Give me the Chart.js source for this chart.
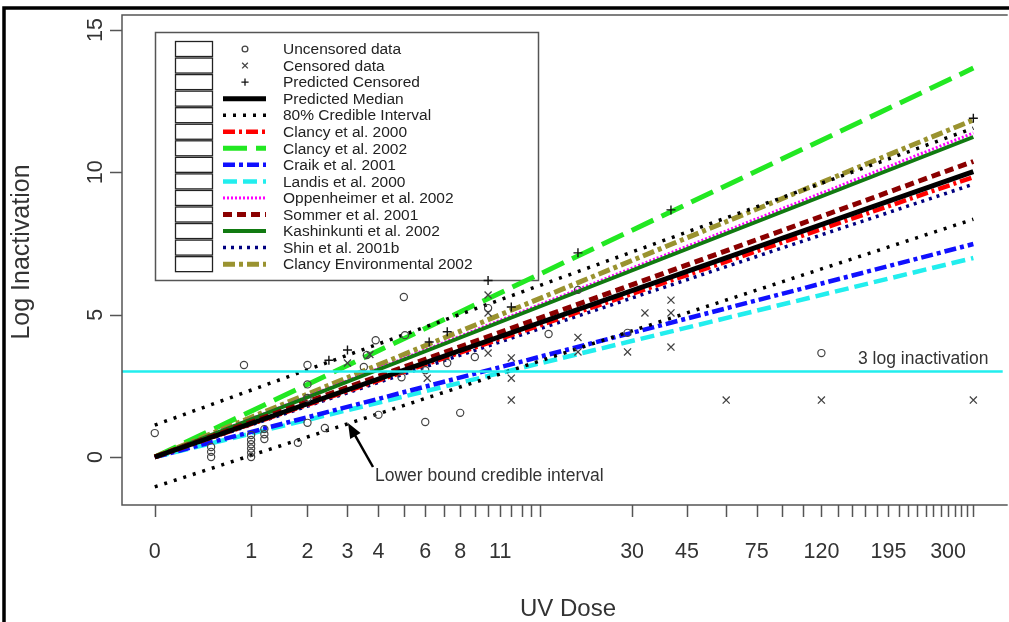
<!DOCTYPE html>
<html><head><meta charset="utf-8">
<script src="https://cdn.jsdelivr.net/npm/chart.js@4.4.1/dist/chart.umd.min.js"></script>
<style>html,body{margin:0;padding:0;background:#fff;}#wrap{width:1009px;height:622px;position:relative;}</style>
</head><body><div id="wrap"><canvas id="c" width="1009" height="622"></canvas></div>
<script>
// ---------- data ----------
const lineDoses = [0, 360];
const medianLog = [0, 10.02];
const ciUpperLog = [1.12, 11.55];
const ciLowerLog = [-1.05, 8.35];
const clancy2000 = [0, 9.83];
const clancy2002 = [0, 13.66];
const craik2001 = [0, 7.48];
const landis2000 = [0, 6.99];
const oppenheimer2002 = [0, 11.38];
const sommer2001 = [0, 10.38];
const kashinkunti2002 = [0, 11.24];
const shin2001b = [0, 9.58];
const clancyEnv2002 = [0, 11.84];

const uncensoredDose = [0, 0.5, 0.5, 0.5, 0.9, 1, 1, 1, 1, 1, 1, 1.2, 1.2, 1.2, 1.8, 2, 2, 2, 2, 2.4, 3.5, 3.6, 3.9, 4, 4.9, 5, 5.05, 6, 6, 7.2, 8, 9, 10, 16, 20, 29, 120];
const uncensoredLog  = [0.84, 0.35, 0.18, 0.0, 3.23, 0.77, 0.6, 0.45, 0.3, 0.15, 0.0, 0.98, 0.8, 0.63, 0.5, 3.23, 2.55, 2.07, 1.2, 1.02, 3.16, 3.58, 4.1, 1.48, 2.8, 5.62, 4.28, 1.23, 3.05, 3.3, 1.55, 3.51, 5.23, 4.32, 5.87, 4.36, 3.65];
const censoredDose = [3, 3.7, 6.1, 10, 10, 10, 12, 12, 12, 20, 20, 29, 33, 40, 40, 40, 60, 120, 360];
const censoredLog  = [3.3, 3.6, 2.77, 5.69, 5.06, 3.65, 3.48, 2.77, 2.0, 4.2, 3.69, 3.69, 5.06, 5.51, 5.06, 3.86, 2.0, 2.0, 2.0];
const predictedDose = [2.5, 3, 6.2, 7.2, 10, 12, 20, 40, 360];
const predictedLog  = [3.4, 3.76, 4.04, 4.4, 6.2, 5.27, 7.17, 8.68, 11.9];

const thresholdLog = 3;
const xTickDoses = [0,1,2,3,4,5,6,7,8,9,10,11,12,13,14,15,30,45,60,75,90,105,120,135,150,165,180,195,210,225,240,255,270,285,300,315,330,345,360];
const xTickLabels = [0, 1, 2, 3, 4, 6, 8, 11, 30, 45, 75, 120, 195, 300];
const yTicks = [0, 5, 10, 15];
const xMinDose = -0.21, xMaxDose = 444.9;

// ---------- build ----------
const FONT = "'Liberation Sans', Arial, Helvetica, sans-serif";
const pts = (ds, vs) => ds.map((d, i) => ({x: d + 1, y: vs[i]}));
const lineDs = (label, vals, color, width, dash, extra) => Object.assign({
  type: 'line', label, data: pts(lineDoses, vals), borderColor: color, backgroundColor: color,
  borderWidth: width, borderDash: dash, pointRadius: 0, fill: false, tension: 0, borderCapStyle: 'butt'
}, extra || {});

const datasets = [
  {type: 'scatter', label: 'Uncensored data', data: pts(uncensoredDose, uncensoredLog), pointStyle: 'circle', pointRadius: 3.6, borderColor: '#444', backgroundColor: 'rgba(0,0,0,0)', pointBorderWidth: 1.2, showLine: false},
  {type: 'scatter', label: 'Censored data', data: pts(censoredDose, censoredLog), pointStyle: 'crossRot', pointRadius: 5, borderColor: '#444', backgroundColor: '#444', pointBorderWidth: 1.3, showLine: false},
  {type: 'scatter', label: 'Predicted Censored', data: pts(predictedDose, predictedLog), pointStyle: 'cross', pointRadius: 4.5, borderColor: '#111', backgroundColor: '#111', pointBorderWidth: 1.4, showLine: false},
  lineDs('Predicted Median', medianLog, '#000000', 5, []),
  lineDs('80% Credible Interval', ciUpperLog, '#000000', 3.5, [3, 7]),
  lineDs('80% Credible Interval', ciLowerLog, '#000000', 3.5, [3, 7], {noLegend: true}),
  lineDs('Clancy et al. 2000', clancy2000, '#ff0000', 4.5, [12, 4, 3, 4]),
  lineDs('Shin et al. 2001b', shin2001b, '#000080', 3.5, [3, 5]),
  lineDs('Sommer et al. 2001', sommer2001, '#8b0000', 5, [9, 5]),
  lineDs('Kashinkunti et al. 2002', kashinkunti2002, '#117a11', 4, []),
  lineDs('Oppenheimer et al. 2002', oppenheimer2002, '#ff00ff', 3, [2, 2]),
  lineDs('Clancy Environmental 2002', clancyEnv2002, '#9a9330', 5, [12, 4, 4, 4]),
  lineDs('Clancy et al. 2002', clancy2002, '#22e822', 5, [24, 9]),
  lineDs('Craik et al. 2001', craik2001, '#1010ff', 4.5, [12, 4, 4, 4]),
  lineDs('Landis et al. 2000', landis2000, '#22eeee', 4.5, [14, 6]),
];
const legendOrder = ['Uncensored data','Censored data','Predicted Censored','Predicted Median','80% Credible Interval','Clancy et al. 2000','Clancy et al. 2002','Craik et al. 2001','Landis et al. 2000','Oppenheimer et al. 2002','Sommer et al. 2001','Kashinkunti et al. 2002','Shin et al. 2001b','Clancy Environmental 2002'];

const legendBox = {
  id: 'legendBox',
  beforeDatasetsDraw(chart) {
    const ctx = chart.ctx;
    ctx.save();
    ctx.fillStyle = '#fff'; ctx.fillRect(155, 32, 383, 248);
    ctx.strokeStyle = '#555'; ctx.lineWidth = 1.5; ctx.strokeRect(155.5, 32.5, 383, 248);
    ctx.font = '15.5px ' + FONT; ctx.textBaseline = 'middle'; ctx.textAlign = 'left';
    legendOrder.forEach((name, i) => {
      const cy = 49 + i * 16.55;
      const ds = chart.data.datasets.find(d => d.label === name && !d.noLegend);
      ctx.setLineDash([]); ctx.strokeStyle = '#222'; ctx.lineWidth = 1.3;
      ctx.strokeRect(175.5, cy - 7.5, 37, 15);
      if (ds.type === 'scatter') {
        ctx.strokeStyle = ds.borderColor; ctx.fillStyle = 'rgba(0,0,0,0)';
        Chart.helpers.drawPoint(ctx, {pointStyle: ds.pointStyle, radius: ds.pointRadius * 0.8, borderWidth: ds.pointBorderWidth, rotation: 0}, 245, cy);
      } else {
        ctx.strokeStyle = ds.borderColor; ctx.lineWidth = ds.borderWidth; ctx.setLineDash(ds.borderDash);
        ctx.beginPath(); ctx.moveTo(223, cy); ctx.lineTo(266, cy); ctx.stroke();
      }
      ctx.setLineDash([]); ctx.fillStyle = '#222';
      ctx.fillText(name, 283, cy + 1);
    });
    ctx.restore();
  }
};

const decor = {
  id: 'decor',
  afterDatasetsDraw(chart) {
    const ctx = chart.ctx, a = chart.chartArea, xs = chart.scales.x, ys = chart.scales.y;
    ctx.save();
    const ty = ys.getPixelForValue(thresholdLog);
    ctx.strokeStyle = '#22eeee'; ctx.lineWidth = 2.5; ctx.setLineDash([]);
    ctx.beginPath(); ctx.moveTo(a.left, ty); ctx.lineTo(a.right, ty); ctx.stroke();
    ctx.strokeStyle = '#555'; ctx.lineWidth = 1.5;
    ctx.beginPath(); ctx.moveTo(a.right + 5, a.top); ctx.lineTo(a.left, a.top); ctx.lineTo(a.left, a.bottom); ctx.lineTo(a.right + 5, a.bottom); ctx.stroke();
    ctx.beginPath();
    xTickDoses.forEach(d => { const px = Math.round(xs.getPixelForValue(d + 1)) + 0.5; ctx.moveTo(px, a.bottom); ctx.lineTo(px, a.bottom + 12); });
    yTicks.forEach(v => { const py = Math.round(ys.getPixelForValue(v)) + 0.5; ctx.moveTo(a.left, py); ctx.lineTo(a.left - 12, py); });
    ctx.stroke();
    ctx.fillStyle = '#333';
    ctx.font = '21.5px ' + FONT; ctx.textAlign = 'center'; ctx.textBaseline = 'middle';
    xTickLabels.forEach(d => ctx.fillText(String(d), xs.getPixelForValue(d + 1), 552));
    yTicks.forEach(v => { ctx.save(); ctx.translate(96, ys.getPixelForValue(v)); ctx.rotate(-Math.PI / 2); ctx.fillText(String(v), 0, 0); ctx.restore(); });
    ctx.font = '24px ' + FONT;
    ctx.fillText('UV Dose', (a.left + 1014) / 2, 609);
    ctx.font = '25px ' + FONT;
    ctx.save(); ctx.translate(22, 252); ctx.rotate(-Math.PI / 2); ctx.fillText('Log Inactivation', 0, 0); ctx.restore();
    ctx.font = '17.5px ' + FONT; ctx.textAlign = 'left';
    ctx.fillText('3 log inactivation', 858, ty - 12);
    ctx.fillText('Lower bound credible interval', 375, 476);
    ctx.strokeStyle = '#000'; ctx.fillStyle = '#000'; ctx.lineWidth = 2.5;
    const tx = 348, tyA = 423, sx = 373, sy = 467;
    const ang = Math.atan2(tyA - sy, tx - sx);
    ctx.beginPath(); ctx.moveTo(sx, sy); ctx.lineTo(tx - 10 * Math.cos(ang), tyA - 10 * Math.sin(ang)); ctx.stroke();
    ctx.beginPath(); ctx.moveTo(tx, tyA);
    ctx.lineTo(tx - 15 * Math.cos(ang) + 6 * Math.sin(ang), tyA - 15 * Math.sin(ang) - 6 * Math.cos(ang));
    ctx.lineTo(tx - 15 * Math.cos(ang) - 6 * Math.sin(ang), tyA - 15 * Math.sin(ang) + 6 * Math.cos(ang));
    ctx.closePath(); ctx.fill();
    ctx.strokeStyle = '#000'; ctx.lineWidth = 3.5;
    ctx.beginPath(); ctx.moveTo(4, 700); ctx.lineTo(4, 8); ctx.lineTo(1100, 8); ctx.stroke();
    ctx.restore();
  }
};

new Chart(document.getElementById('c'), {
  data: {datasets},
  options: {
    responsive: false, animation: false, devicePixelRatio: 1,
    layout: {padding: {left: 122, top: 15, right: 0, bottom: 117}},
    plugins: {legend: {display: false}, tooltip: {enabled: false}},
    scales: {
      x: {type: 'logarithmic', display: false, bounds: 'data', min: xMinDose + 1, max: xMaxDose + 1},
      y: {type: 'linear', display: false, min: -1.686, max: 15.525}
    }
  },
  plugins: [legendBox, decor]
});
</script></body></html>
